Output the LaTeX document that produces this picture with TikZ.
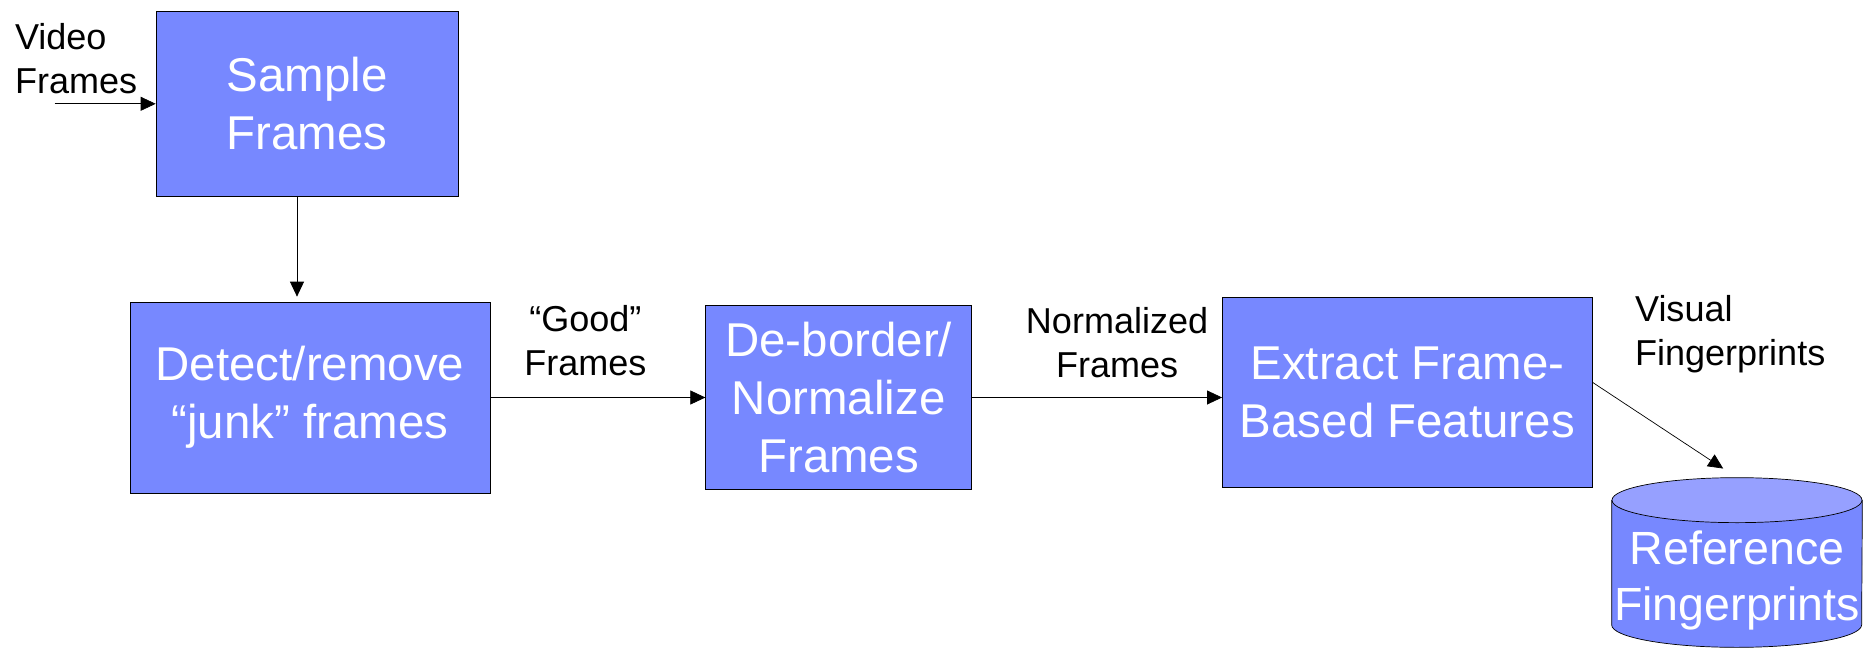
\documentclass[tikz,border=0pt]{standalone}
\usepackage{fontspec}
\setmainfont{Liberation Sans}
\usetikzlibrary{positioning, arrows.meta}
\definecolor{boxblue}{RGB}{119,136,255}
\definecolor{topblue}{RGB}{150,160,255}
\tikzset{->, >={Triangle[length=0.3cm, width=0.28cm]}, line width=0.04cm}
\tikzset{
    stage/.style = {draw, fill=boxblue, text=white, align=center, inner sep=0pt,
                    font=\fontsize{27}{33}\selectfont},
    dbtext/.style = {text=white, align=center, inner sep=0pt,
                     font=\fontsize{26.5}{31.5}\selectfont},
    lbl/.style = {inner sep=0pt, font=\fontsize{20.5}{25}\selectfont}
}

\begin{document}
\begin{tikzpicture}
    \useasboundingbox (0,0) rectangle (37.28,-12.96);
    \node[stage, minimum width=7.2cm, minimum height=3.82cm] (detect) at (6.2,-7.95) {Detect/remove\\“junk” frames};
    \node[stage, minimum width=6.04cm, minimum height=3.7cm, above=2.1cm of detect, xshift=-0.06cm] (sample) {Sample\\Frames};
    \node[stage, minimum width=5.32cm, minimum height=3.68cm, right=4.3cm of detect] (deborder) {De-border/\\Normalize\\Frames};
    \node[stage, minimum width=7.4cm, minimum height=3.8cm, right=5cm of deborder, yshift=0.1cm] (extract) {Extract Frame-\\Based Features};

    % database cylinder
    \node[minimum width=5cm, minimum height=3.38cm, inner sep=0pt] (refdb) at (34.74,-11.25) {};
    \draw[-, fill=boxblue] ([yshift=-0.45cm]refdb.north west) -- ([yshift=0.45cm]refdb.south west)
        arc[start angle=180, end angle=360, x radius=2.5cm, y radius=0.45cm]
        -- ([yshift=-0.45cm]refdb.north east) -- cycle;
    \draw[-, fill=topblue] ([yshift=-0.45cm]refdb.north) ellipse[x radius=2.5cm, y radius=0.45cm];
    \node[dbtext] (reflbl) at ([yshift=-0.36cm]refdb.center) {Reference\\Fingerprints};

    \coordinate[left=2.02cm of sample.west] (vin);
    \node[lbl, anchor=south west, align=left] (vidlbl) at ([xshift=-0.8cm, yshift=0.2cm]vin) {Video\\Frames};
    \node[lbl, anchor=north west, align=left] (vislbl) at ([xshift=0.84cm, yshift=0.05cm]extract.north east) {Visual\\Fingerprints};

    \draw (vin) -- (sample);
    \draw[shorten >=0.1cm] ([xshift=-0.2cm]sample.south) -- ([xshift=-0.2cm]sample.south |- detect.north);
    \draw (detect.east) -- (detect.east -| deborder.west)
        node[lbl, midway, above=0.43cm, xshift=-0.25cm, align=center] {“Good”\\Frames};
    \draw (deborder.east) -- (deborder.east -| extract.west)
        node[lbl, midway, above=0.39cm, xshift=0.4cm, align=center] {Normalized\\Frames};
    \draw[shorten >=0.33cm] ([yshift=0.2cm]extract.east) -- (refdb.north);
\end{tikzpicture}
\end{document}
